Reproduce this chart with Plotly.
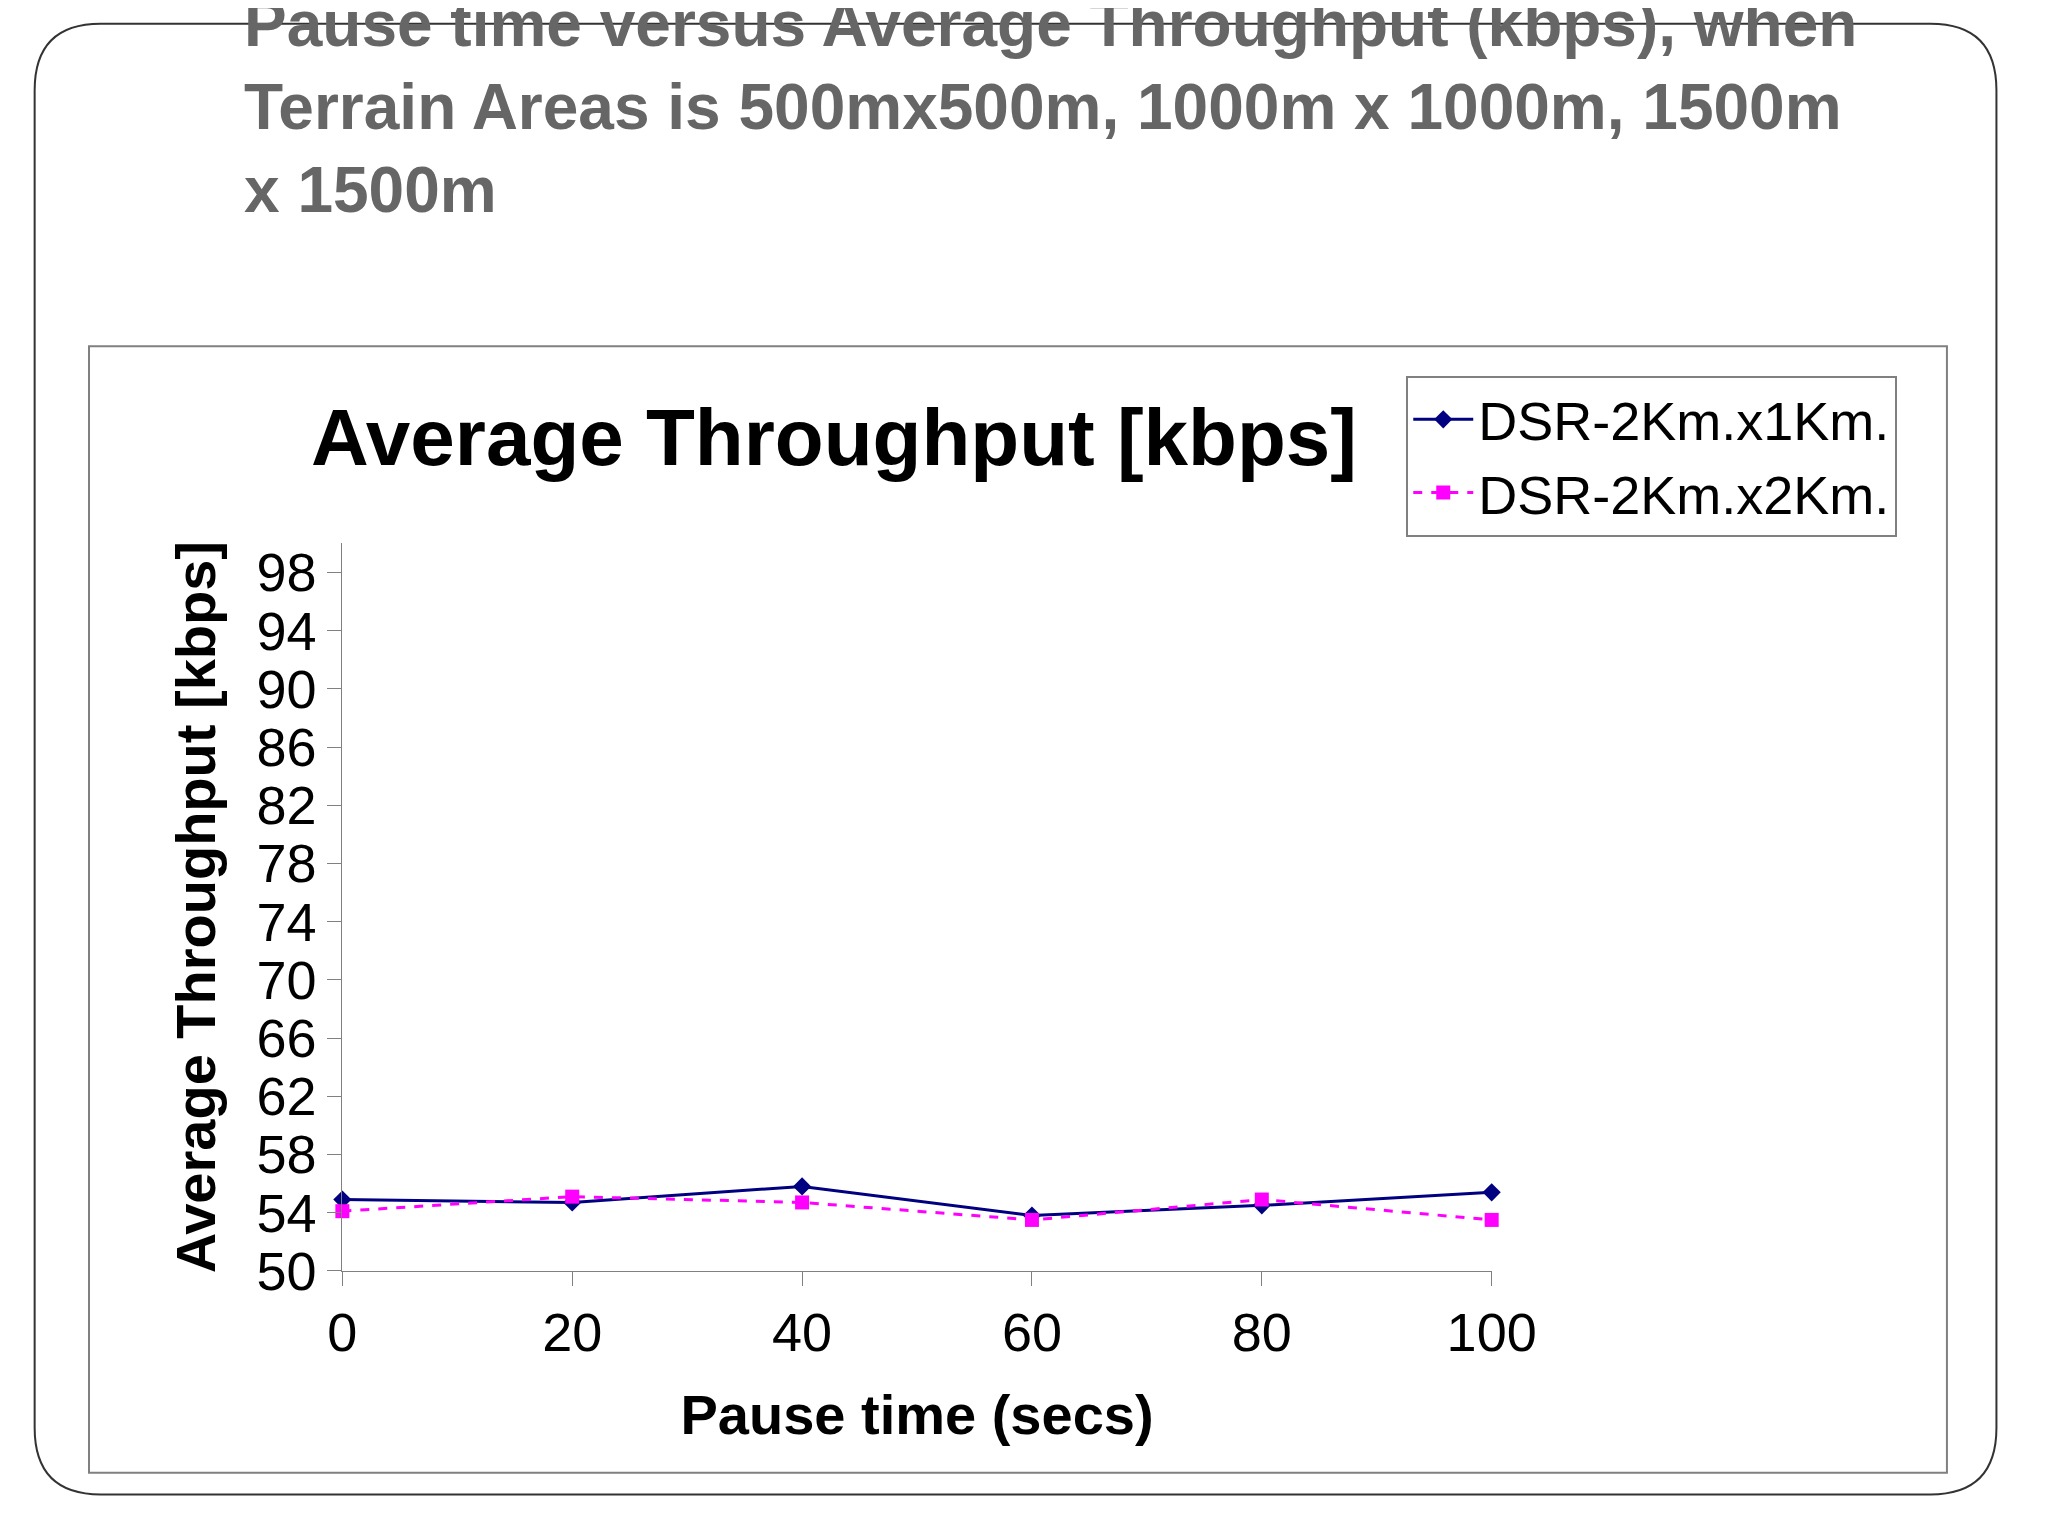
import plotly.graph_objects as go

pause = [0, 20, 40, 60, 80, 100]
dsr_1k = [54.9, 54.7, 55.8, 53.8, 54.5, 55.4]
dsr_2k = [54.1, 55.1, 54.7, 53.5, 54.9, 53.5]
yticks = list(range(50, 99, 4))

F = "Liberation Sans, Arial, sans-serif"
fig = go.Figure()
fig.add_trace(go.Scatter(x=pause, y=dsr_1k, name="DSR-2Km.x1Km.", mode="lines+markers",
                         line=dict(color="#000080", width=3),
                         marker=dict(symbol="diamond", size=14, color="#000080"), cliponaxis=False))
fig.add_trace(go.Scatter(x=pause, y=dsr_2k, name="DSR-2Km.x2Km.", mode="lines+markers",
                         line=dict(color="#FF00FF", width=3, dash="dash"),
                         marker=dict(symbol="square", size=14, color="#FF00FF"), cliponaxis=False))

W, H = 2048, 1536
def px(x): return x / W
def py(y): return 1 - y / H

fig.update_layout(
    width=W, height=H, margin=dict(l=0, r=0, t=0, b=0),
    paper_bgcolor="white", plot_bgcolor="white",
    font=dict(family=F, color="black"),
    xaxis=dict(domain=[px(329), px(1513)], range=[0, 100], tickvals=pause,
               showline=True, linecolor="#808080", ticks="outside", ticklen=14, tickcolor="#808080",
               showgrid=False, zeroline=False, tickfont=dict(size=54),
               title=dict(text="<b>Pause time (secs)</b>", font=dict(size=56), standoff=34)),
    yaxis=dict(domain=[py(1288), py(546)], range=[50, 100], tickvals=yticks,
               showline=True, linecolor="#808080", ticks="outside", ticklen=14, tickcolor="#808080",
               showgrid=False, zeroline=False, tickfont=dict(size=54),
               title=dict(text="<b>Average Throughput [kbps]</b>", font=dict(size=56), standoff=22)),
    legend=dict(x=px(1425), y=py(375), xanchor="left", yanchor="top",
                bordercolor="#808080", borderwidth=2, bgcolor="white",
                font=dict(size=54), tracegroupgap=48, itemwidth=60),
    shapes=[
        dict(type="path", xref="paper", yref="paper",
             path="M %f,%f L %f,%f Q %f,%f %f,%f L %f,%f Q %f,%f %f,%f L %f,%f Q %f,%f %f,%f L %f,%f Q %f,%f %f,%f Z" % (
                 px(80), py(16), px(1965), py(16), px(2033), py(16), px(2033), py(84),
                 px(2033), py(1448), px(2033), py(1516), px(1965), py(1516),
                 px(80), py(1516), px(12), py(1516), px(12), py(1448),
                 px(12), py(84), px(12), py(16), px(80), py(16)),
             line=dict(color="#333333", width=2), layer="below"),
        dict(type="rect", xref="paper", yref="paper", x0=px(68), x1=px(1982), y0=py(1494), y1=py(345),
             line=dict(color="#808080", width=2), fillcolor="white", layer="below"),
    ],
    annotations=[
        dict(text="<b>Pause time versus Average Throughput (kbps), when<br>Terrain Areas is 500mx500m, 1000m x 1000m, 1500m<br>x 1500m</b>",
             x=px(226), y=py(-22), xanchor="left", yanchor="top", xref="paper", yref="paper",
             showarrow=False, align="left", font=dict(size=64, color="#666666", family=F)),
        dict(text="<b>Average Throughput [kbps]</b>", x=px(835), y=py(438), xref="paper", yref="paper",
             xanchor="center", yanchor="middle",
             showarrow=False, font=dict(size=80, color="black", family=F)),
    ],
)
fig.write_html("out.html")
